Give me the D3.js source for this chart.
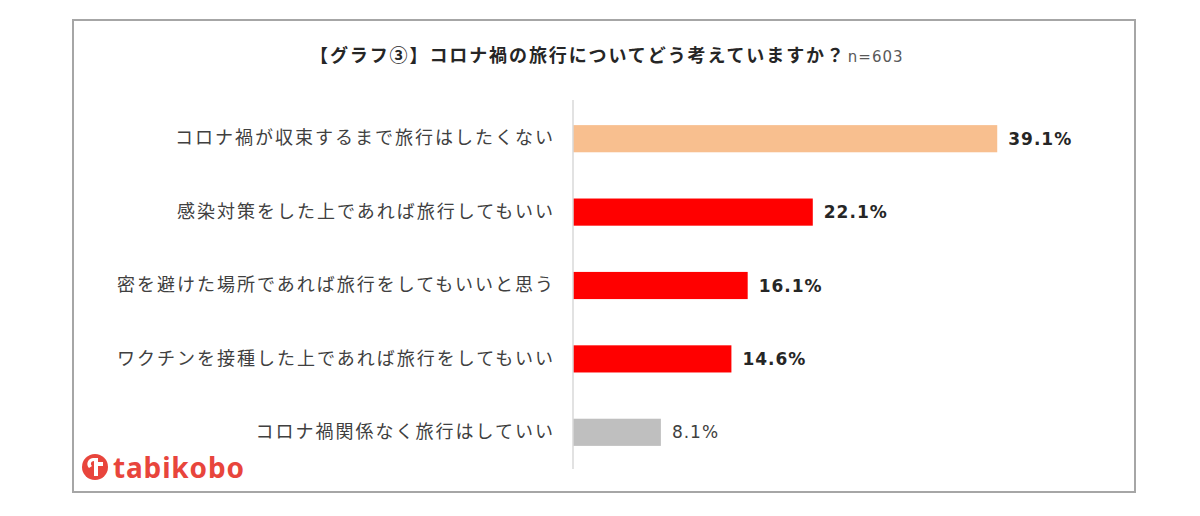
<!DOCTYPE html>
<html>
<head>
<meta charset="utf-8">
<script src="https://cdn.jsdelivr.net/npm/d3@7"></script>
<style>
  body { margin: 0; background: #fff; }
  svg { display: block; }
</style>
</head>
<body>
<svg id="chart" width="1200" height="516"></svg>
<script>
// Data
const categories = [
  "コロナ禍が収束するまで旅行はしたくない",
  "感染対策をした上であれば旅行してもいい",
  "密を避けた場所であれば旅行をしてもいいと思う",
  "ワクチンを接種した上であれば旅行をしてもいい",
  "コロナ禍関係なく旅行はしていい"
];
const values = [39.1, 22.1, 16.1, 14.6, 8.1];
const titleText = "【グラフ③】コロナ禍の旅行についてどう考えていますか？";
const sampleText = "n=603";

const svg = d3.select("#chart");
const jpFont = "'Noto Sans CJK JP', 'Noto Sans', sans-serif";
const numFont = "'DejaVu Sans', Verdana, sans-serif";

// Frame
svg.append("rect")
  .attr("x", 73).attr("y", 20)
  .attr("width", 1062).attr("height", 472)
  .attr("fill", "#fff")
  .attr("stroke", "#a6a6a6")
  .attr("stroke-width", 2);

// Title
const title = svg.append("text")
  .attr("x", 310).attr("y", 62)
  .attr("font-family", jpFont)
  .attr("fill", "#262626");
title.append("tspan")
  .attr("font-size", 18).attr("font-weight", "bold")
  .attr("letter-spacing", 1.9)
  .text(titleText);
title.append("tspan")
  .attr("dx", 2)
  .attr("font-family", numFont)
  .attr("font-size", 15)
  .attr("letter-spacing", 1)
  .attr("fill", "#595959")
  .text(sampleText);

// Scales
const x = d3.scaleLinear().domain([0, 40]).range([573, 1007]);
const y = d3.scaleBand()
  .domain(categories)
  .range([102, 469])
  .paddingInner(0.63)
  .paddingOuter(0.315);

const barColor = (d, i) =>
  i === 0 ? "#f8bf8f" : i === categories.length - 1 ? "#bfbfbf" : "#ff0000";

// Bars
svg.selectAll(".bar")
  .data(values)
  .join("rect")
  .attr("class", "bar")
  .attr("x", x(0))
  .attr("y", (d, i) => y(categories[i]))
  .attr("width", (d) => x(d) - x(0))
  .attr("height", y.bandwidth())
  .attr("fill", barColor);

// Category axis
const yAxis = svg.append("g")
  .attr("transform", `translate(${x(0)},0)`)
  .call(d3.axisLeft(y).tickSize(0).tickPadding(20));
yAxis.select(".domain")
  .attr("stroke", "#d9d9d9")
  .attr("stroke-width", 1.5)
  .attr("d", "M0,100V469");
yAxis.selectAll(".tick text")
  .attr("font-family", jpFont)
  .attr("font-size", 18)
  .attr("letter-spacing", 2)
  .attr("fill", "#404040")
  .attr("dx", 2);

// Value labels
svg.selectAll(".val")
  .data(values)
  .join("text")
  .attr("class", "val")
  .attr("x", (d) => x(d) + 11)
  .attr("y", (d, i) => y(categories[i]) + y.bandwidth() / 2)
  .attr("dy", "0.36em")
  .attr("font-family", numFont)
  .attr("font-size", 17)
  .attr("letter-spacing", 1)
  .attr("font-weight", (d, i) => (i === values.length - 1 ? "normal" : "bold"))
  .attr("fill", (d, i) => (i === values.length - 1 ? "#404040" : "#262626"))
  .text((d) => d.toFixed(1) + "%");

// Logo
const logo = svg.append("g").attr("transform", "translate(95,467)");
logo.append("circle").attr("r", 13).attr("fill", "#e8453c");
logo.append("path")
  .attr("d", "M-2,-9 C-8,-8 -9,-2 -6,1 L-3,-1 C-5,-3 -4,-6 -1,-6 L-1,9 L3,9 L3,-1 L8,-1 L8,-5 L3,-5 L3,-9 Z")
  .attr("fill", "#fff");
svg.append("text")
  .attr("x", 113).attr("y", 478)
  .attr("font-family", "'Noto Sans', sans-serif")
  .attr("font-size", 28)
  .attr("font-weight", "bold")
  .attr("fill", "#e8453c")
  .attr("textLength", 131)
  .text("tabikobo");
</script>
</body>
</html>
